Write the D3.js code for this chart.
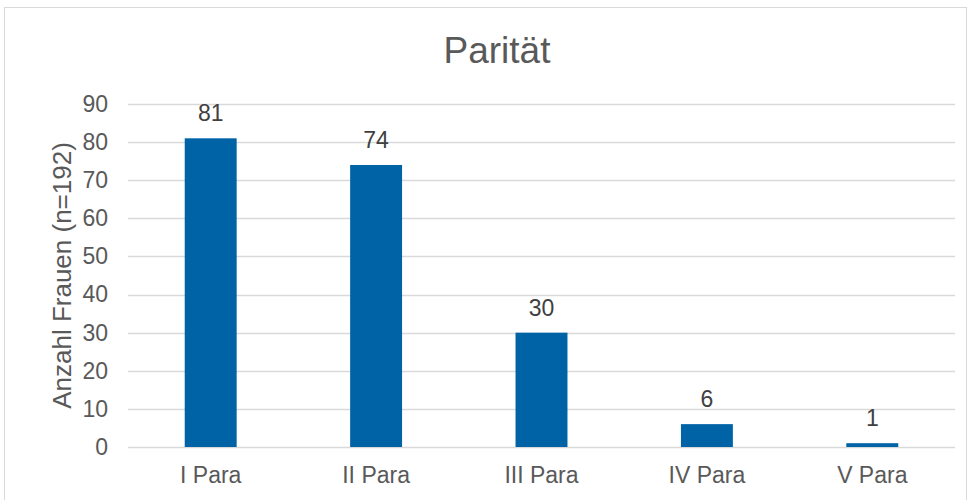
<!DOCTYPE html>
<html>
<head>
<meta charset="utf-8">
<script src="https://cdn.jsdelivr.net/npm/d3@7"></script>
<style>
  body { margin: 0; background: #fff; }
  svg { display: block; font-family: Arial, 'Liberation Sans', sans-serif; }
</style>
</head>
<body>
<svg id="chart" width="972" height="500"></svg>
<script>
const categories = ['I Para', 'II Para', 'III Para', 'IV Para', 'V Para']
const values = [81, 74, 30, 6, 1]
const yTicks = [0, 10, 20, 30, 40, 50, 60, 70, 80, 90]

const svg = d3.select('#chart')
const margin = { left: 128, right: 17, top: 104, bottom: 53 }
const width = 972, height = 500

// chart border
svg.append('rect')
  .attr('x', 4.5).attr('y', 7.5)
  .attr('width', 962).attr('height', 500)
  .attr('fill', '#fff')
  .attr('stroke', '#d9d9d9')
  .attr('stroke-width', 1)

const x = d3.scaleBand()
  .domain(categories)
  .range([margin.left, width - margin.right])
  .padding(0)

const y = d3.scaleLinear()
  .domain([0, 90])
  .range([height - margin.bottom, margin.top])

// gridlines
svg.append('g')
  .selectAll('line')
  .data(yTicks)
  .join('line')
  .attr('x1', margin.left).attr('x2', width - margin.right)
  .attr('y1', d => Math.round(y(d)) + 0.5).attr('y2', d => Math.round(y(d)) + 0.5)
  .attr('stroke', '#d9d9d9')
  .attr('stroke-width', 1.5)

// y axis labels
const yAxis = svg.append('g')
  .attr('transform', `translate(${margin.left - 20},0)`)
  .call(d3.axisLeft(y).tickValues(yTicks).tickSize(0).tickPadding(0))
yAxis.select('.domain').remove()
yAxis.selectAll('text')
  .attr('font-size', 23).attr('fill', '#595959')
  .attr('font-family', 'Arial, Liberation Sans, sans-serif')

// x axis labels
const xAxis = svg.append('g')
  .attr('transform', `translate(0,${height - margin.bottom})`)
  .call(d3.axisBottom(x).tickSize(0).tickPadding(20))
xAxis.select('.domain').remove()
xAxis.selectAll('text')
  .attr('font-size', 23).attr('fill', '#595959')
  .attr('font-family', 'Arial, Liberation Sans, sans-serif')

// bars
const barW = x.bandwidth() * 0.314
svg.append('g')
  .selectAll('rect')
  .data(values)
  .join('rect')
  .attr('x', (d, i) => x(categories[i]) + x.bandwidth() / 2 - barW / 2)
  .attr('y', d => y(d))
  .attr('width', barW)
  .attr('height', d => y(0) - y(d))
  .attr('fill', '#0063a6')

// data labels
svg.append('g')
  .selectAll('text')
  .data(values)
  .join('text')
  .attr('x', (d, i) => x(categories[i]) + x.bandwidth() / 2)
  .attr('y', d => y(d) - 17)
  .attr('text-anchor', 'middle')
  .attr('font-size', 23)
  .attr('fill', '#404040')
  .text(d => d)

// title
svg.append('text')
  .attr('x', 497).attr('y', 63)
  .attr('text-anchor', 'middle')
  .attr('font-size', 37)
  .attr('fill', '#595959')
  .text('Parität')

// y axis title
svg.append('text')
  .attr('transform', `translate(71,${(y(0) + y(90)) / 2}) rotate(-90)`)
  .attr('text-anchor', 'middle')
  .attr('font-size', 26)
  .attr('fill', '#595959')
  .text('Anzahl Frauen (n=192)')
</script>
</body>
</html>
